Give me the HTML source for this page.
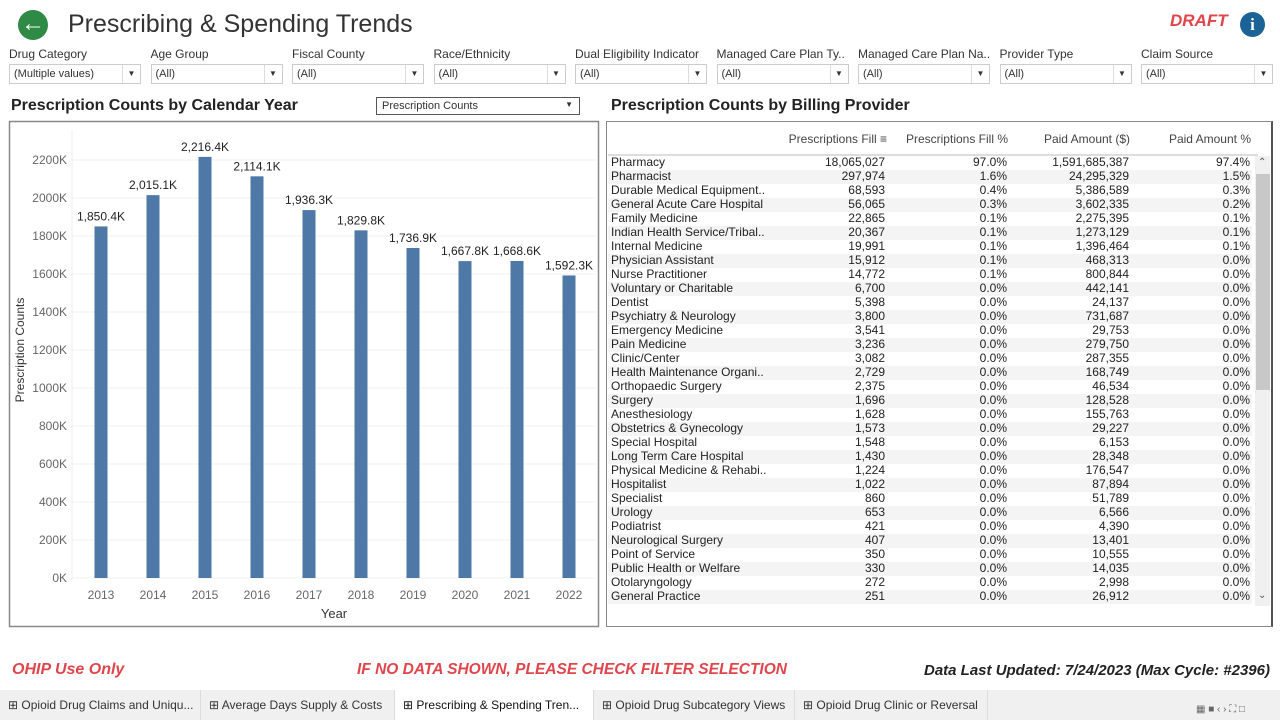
<!DOCTYPE html>
<html><head><meta charset="utf-8">
<style>
*{box-sizing:border-box;margin:0;padding:0}
body{width:1280px;height:720px;overflow:hidden;background:#fff;font-family:"Liberation Sans",Arial,sans-serif;position:relative;color:#333}
.abs{position:absolute}
.flabel{position:absolute;top:47px;font-size:12px;color:#333;white-space:nowrap}
.fbox{position:absolute;top:64px;height:20px;border:1px solid #ccc;background:#fff;font-size:11px;color:#333;padding:3px 4px;width:132px}
.fbox .arr{position:absolute;right:0;top:0;width:18px;height:18px;border-left:1px solid #ddd;font-size:8px;text-align:center;line-height:18px}
.row{position:absolute;left:608px;width:644px;height:14px;font-size:12px;line-height:13px;color:#222}
.row span{position:absolute;top:0;white-space:nowrap}
.tab{position:absolute;top:690px;height:30px;font-size:12px;line-height:30px;padding-left:8px;color:#333;border-right:1px solid #ddd;white-space:nowrap;overflow:hidden}
.foot{position:absolute;top:661px;font-size:16px;font-weight:bold;font-style:italic;white-space:nowrap}
</style></head><body>
<div class="abs" style="left:18px;top:10px;width:30px;height:30px;border-radius:50%;background:#2f8a45;color:#fff;font-size:24px;line-height:28px;text-align:center;font-weight:bold">&#8592;</div>
<div class="abs" style="left:68px;top:10px;font-size:25px;color:#333">Prescribing &amp; Spending Trends</div>
<div class="abs" style="left:1170px;top:11px;font-size:17px;font-weight:bold;font-style:italic;color:#e0454b">DRAFT</div>
<div class="abs" style="left:1240px;top:12px;width:25px;height:25px;border-radius:50%;background:#1b6396;color:#fff;font-size:17px;font-weight:bold;line-height:25px;text-align:center;font-family:'Liberation Serif',serif">i</div>

<div id="filters"></div>

<div class="abs" style="left:11px;top:97px;font-size:16px;font-weight:bold;color:#222">Prescription Counts by Calendar Year</div>
<div class="abs" style="left:376px;top:97px;width:204px;height:18px;border:1px solid #555;font-size:11px;padding:2px 5px;color:#333">Prescription Counts<span style="position:absolute;right:6px;top:2px;font-size:8px">&#9660;</span></div>
<div class="abs" style="left:611px;top:97px;font-size:16px;font-weight:bold;color:#222">Prescription Counts by Billing Provider</div>

<svg class="abs" style="left:0;top:0" width="605" height="630" id="chart"></svg>

<div class="abs" style="left:606px;top:121px;width:667px;height:506px;border:1px solid #888;border-right:2px solid #555"></div>
<div class="abs" style="left:608px;top:128px;width:650px;height:28px;font-size:12px;color:#444;border-bottom:2px solid #ddd">
<span class="abs" style="right:371px;top:4px">Prescriptions Fill &#8801;</span>
<span class="abs" style="right:250px;top:4px">Prescriptions Fill %</span>
<span class="abs" style="right:128px;top:4px">Paid Amount ($)</span>
<span class="abs" style="right:7px;top:4px">Paid Amount %</span>
</div>
<div id="rows"></div>
<div class="abs" style="left:1255px;top:156px;width:15px;height:450px;background:#f0f0f0"></div>
<div class="abs" style="left:1256px;top:174px;width:14px;height:216px;background:#c8c8c8"></div>
<div class="abs" style="left:1258px;top:157px;font-size:10px;color:#555">&#8963;</div>
<div class="abs" style="left:1258px;top:590px;font-size:10px;color:#555">&#8964;</div>

<div class="foot" style="left:12px;color:#e0454b">OHIP Use Only</div>
<div class="foot" style="left:357px;color:#e0454b;font-size:15.5px">IF NO DATA SHOWN, PLEASE CHECK FILTER SELECTION</div>
<div class="foot" style="right:10px;color:#222;font-size:15px;top:662px">Data Last Updated: 7/24/2023 (Max Cycle: #2396)</div>

<div class="abs" style="left:0;top:690px;width:1280px;height:30px;background:#f0f0f0"></div>
<div class="tab" style="left:0;width:201px">&#8862; Opioid Drug Claims and Uniqu...</div>
<div class="tab" style="left:201px;width:194px">&#8862; Average Days Supply &amp; Costs</div>
<div class="tab" style="left:395px;width:199px;background:#fff;color:#111">&#8862; Prescribing &amp; Spending Tren...</div>
<div class="tab" style="left:594px;width:201px">&#8862; Opioid Drug Subcategory Views</div>
<div class="tab" style="left:795px;width:193px">&#8862; Opioid Drug Clinic or Reversal</div>
<div class="abs" style="left:1196px;top:704px;font-size:10px;color:#666">&#9638; &#9632; &#8249; &#8250; &#9974; &#9633;</div>

<script>
const filterNames=["Drug Category","Age Group","Fiscal County","Race/Ethnicity","Dual Eligibility Indicator","Managed Care Plan Ty..","Managed Care Plan Na..","Provider Type","Claim Source"];
const filterVals=["(Multiple values)","(All)","(All)","(All)","(All)","(All)","(All)","(All)","(All)"];
const fc=document.getElementById('filters');
filterNames.forEach((n,i)=>{
  const x=9+i*141.5;
  const l=document.createElement('div');l.className='flabel';l.style.left=x+'px';l.textContent=n;
  
  
  fc.appendChild(l);
  const b=document.createElement('div');b.className='fbox';b.style.left=x+'px';
  b.innerHTML=filterVals[i]+'<span class="arr">&#9660;</span>';
  
  
  fc.appendChild(b);
});

const years=["2013","2014","2015","2016","2017","2018","2019","2020","2021","2022"];
const counts=[1850.4,2015.1,2216.4,2114.1,1936.3,1829.8,1736.9,1667.8,1668.6,1592.3];
const ticks=[0,200,400,600,800,1000,1200,1400,1600,1800,2000,2200];
const svg=document.getElementById('chart');const NS='http://www.w3.org/2000/svg';
function el(t,a,txt){const e=document.createElementNS(NS,t);for(const k in a)e.setAttribute(k,a[k]);if(txt!=null)e.textContent=txt;svg.appendChild(e);return e;}
const y0=578,y1=160,vmax=2200;
const yS=v=>y0-(v/vmax)*(y0-y1);
const xS=i=>101+i*52;
let f=el('rect',{x:9.5,y:121.5,width:589,height:505,fill:'none',stroke:'#888','stroke-width':1.5});

ticks.forEach(t=>{
  let g=el('line',{x1:72,x2:596,y1:yS(t),y2:yS(t),stroke:'#f0f0f0'});
  
  let tl=el('text',{x:67,y:yS(t)+4,'text-anchor':'end','font-size':12,fill:'#666'},t+'K');
  
});
el('line',{x1:72,x2:72,y1:130,y2:580,stroke:'#eee'});
counts.forEach((v,i)=>{
  let r=el('rect',{x:xS(i)-6.5,y:yS(v),width:13,height:y0-yS(v),fill:'#4e79a7'});
  
  let lb=el('text',{x:xS(i),y:yS(v)-6,'text-anchor':'middle','font-size':12,fill:'#222'},v.toLocaleString('en-US',{minimumFractionDigits:1,maximumFractionDigits:1})+'K');
  
  let xl=el('text',{x:xS(i),y:599,'text-anchor':'middle','font-size':12,fill:'#666'},years[i]);
  
});
let xt=el('text',{x:334,y:618,'text-anchor':'middle','font-size':13,fill:'#333'},'Year');

let yt=el('text',{x:24,y:350,'text-anchor':'middle','font-size':12,fill:'#333',transform:'rotate(-90 24 350)'},'Prescription Counts');


const providers=["Pharmacy","Pharmacist","Durable Medical Equipment..","General Acute Care Hospital","Family Medicine","Indian Health Service/Tribal..","Internal Medicine","Physician Assistant","Nurse Practitioner","Voluntary or Charitable","Dentist","Psychiatry & Neurology","Emergency Medicine","Pain Medicine","Clinic/Center","Health Maintenance Organi..","Orthopaedic Surgery","Surgery","Anesthesiology","Obstetrics & Gynecology","Special Hospital","Long Term Care Hospital","Physical Medicine & Rehabi..","Hospitalist","Specialist","Urology","Podiatrist","Neurological Surgery","Point of Service","Public Health or Welfare","Otolaryngology","General Practice"];
const fills=["18,065,027","297,974","68,593","56,065","22,865","20,367","19,991","15,912","14,772","6,700","5,398","3,800","3,541","3,236","3,082","2,729","2,375","1,696","1,628","1,573","1,548","1,430","1,224","1,022","860","653","421","407","350","330","272","251"];
const fillPct=["97.0%","1.6%","0.4%","0.3%","0.1%","0.1%","0.1%","0.1%","0.1%"];
const paid=["1,591,685,387","24,295,329","5,386,589","3,602,335","2,275,395","1,273,129","1,396,464","468,313","800,844","442,141","24,137","731,687","29,753","279,750","287,355","168,749","46,534","128,528","155,763","29,227","6,153","28,348","176,547","87,894","51,789","6,566","4,390","13,401","10,555","14,035","2,998","26,912"];
const paidPct=["97.4%","1.5%","0.3%","0.2%","0.1%","0.1%","0.1%"];
const rc=document.getElementById('rows');
providers.forEach((p,i)=>{
  const r=document.createElement('div');r.className='row';r.style.top=(156+i*14)+'px';
  if(i%2)r.style.background='#f4f4f4';
  r.innerHTML=`<span style="left:3px">${p}</span><span style="right:367px">${fills[i]}</span><span style="right:245px">${fillPct[i]||'0.0%'}</span><span style="right:123px">${paid[i]}</span><span style="right:2px">${paidPct[i]||'0.0%'}</span>`;
  
  
  rc.appendChild(r);
});
</script>
</body></html>
